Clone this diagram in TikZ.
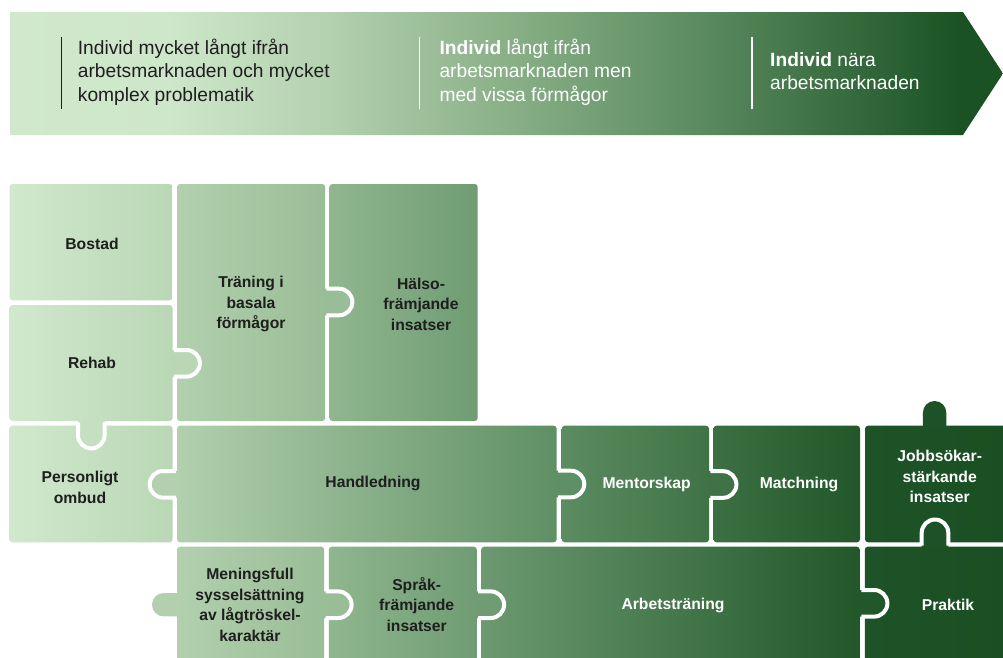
\documentclass[tikz,border=0pt]{standalone}
\usepackage{fontspec}
\setmainfont{Liberation Sans}
% banner colours
\definecolor{bA}{HTML}{D1E8CD}
\definecolor{bB}{HTML}{CEE6CA}
\definecolor{bC}{HTML}{B3D0AF}
\definecolor{bD}{HTML}{8BB189}
\definecolor{bE}{HTML}{5B8B60}
\definecolor{bF}{HTML}{2E6437}
\definecolor{bG}{HTML}{1B5224}
% piece colours (by x position)
\definecolor{cA0}{HTML}{D1E8CD}
\definecolor{cAm}{HTML}{C5DFC1}
\definecolor{cA1}{HTML}{B9D7B5}
\definecolor{cB0}{HTML}{B2D0AE}
\definecolor{cB1}{HTML}{99BD96}
\definecolor{cC0}{HTML}{90B68E}
\definecolor{cC1}{HTML}{6F9C73}
\definecolor{cD0}{HTML}{6C9970}
\definecolor{cH1}{HTML}{5F8F64}
\definecolor{cM0}{HTML}{5C8C61}
\definecolor{cM1}{HTML}{3F7346}
\definecolor{cN0}{HTML}{3C7043}
\definecolor{cN1}{HTML}{215729}
\definecolor{cJ0}{HTML}{1D5327}
\definecolor{cJ1}{HTML}{1A4F22}
\definecolor{cJm}{HTML}{1C5226}
\definecolor{dk}{HTML}{1E1E1E}
\begin{document}
\begin{tikzpicture}[x=1pt,y=-1pt,
  piece/.style={rounded corners=3pt},
  knob/.pic={
    \fill[pic actions] (-3,-13.3) -- (11.8,-13.3) arc[start angle=-90,end angle=90,radius=13.3] -- (-3,13.3) -- cycle;
    \draw[white,line width=4pt] (-1,-13.3) -- (11.8,-13.3) arc[start angle=-90,end angle=90,radius=13.3] -- (-1,13.3);
  },
  tab/.pic={
    \fill[pic actions] (-4,-11.7) -- (13.3,-11.7) arc[start angle=-90,end angle=90,radius=11.7] -- (-4,11.7) -- cycle;
  },
  bantext/.style={font=\fontsize{19.2}{23.5}\selectfont, align=left, inner sep=0pt, anchor=base west},
  lbl/.style={font=\bfseries\fontsize{15.7}{20.5}\selectfont, align=center, inner sep=0pt, text=dk},
  lblw/.style={lbl, text=white},
  divider/.style={line width=1.3pt}
]
\clip (0,0) rectangle (1003,657);
\fill[white] (0,0) rectangle (1003,657);

% ---------- banner ----------
\begin{scope}
  \clip (10,12) -- (963,12) -- (1003,73.5) -- (963,135) -- (10,135) -- cycle;
  \shade[left color=bA, right color=bB] (0,0) rectangle (170.5,150);
  \shade[left color=bB, right color=bC] (170,0) rectangle (330.5,150);
  \shade[left color=bC, right color=bD] (330,0) rectangle (500.5,150);
  \shade[left color=bD, right color=bE] (500,0) rectangle (700.5,150);
  \shade[left color=bE, right color=bF] (700,0) rectangle (880.5,150);
  \shade[left color=bF, right color=bG] (880,0) rectangle (960.5,150);
  \fill[bG] (960,0) rectangle (1010,150);
\end{scope}
\draw[divider, dk] (61.7,37) -- (61.7,109);
\draw[divider, white] (419.5,37) -- (419.5,109);
\draw[divider, white] (752,37) -- (752,109);

% base anchor = baseline of the last line
\node[bantext, text=dk] (t1) at (77.7,101) {Individ mycket långt ifrån\\arbetsmarknaden och mycket\\komplex problematik};
\node[bantext, text=white] (t2) at (439.3,101) {\textbf{Individ} långt ifrån\\arbetsmarknaden men\\med vissa förmågor};
\node[bantext, text=white] (t3) at (770,89.5) {\textbf{Individ} nära\\arbetsmarknaden};

% ---------- puzzle pieces ----------
% row 1
\shade[piece, left color=cA0, right color=cA1] (9.5,184) rectangle (172.5,300.3);
\shade[piece, left color=cA0, right color=cA1] (9.5,305) rectangle (172.5,421);
\shade[piece, left color=cB0, right color=cB1] (177,184) rectangle (325.2,421);
\shade[piece, left color=cC0, right color=cC1] (329.5,184) rectangle (477.7,421);
% row 2
\shade[piece, left color=cA0, right color=cA1] (9.5,425.7) rectangle (172.5,542.3);
\shade[piece, left color=cB0, right color=cH1] (177,425.7) rectangle (556.7,542.3);
\shade[piece, left color=cM0, right color=cM1] (561.7,425.7) rectangle (709,542.3);
\shade[piece, left color=cN0, right color=cN1] (713.5,425.7) rectangle (860,542.3);
\shade[piece, left color=cJ0, right color=cJ1] (865,425.7) rectangle (1010,542.3);
% row 3
\shade[piece, left color=cB0, right color=cB1] (177,546.7) rectangle (324.2,670);
\shade[piece, left color=cC0, right color=cC1] (328.8,546.7) rectangle (476.8,670);
\shade[piece, left color=cD0, right color=cN1] (481.2,546.7) rectangle (859.8,670);
\shade[piece, left color=cJ0, right color=cJ1] (864.8,546.7) rectangle (1010,670);

% outward tabs
\pic[fill=cJm, rotate=90] at (934.6,426) {tab};
\pic[fill=cB0, rotate=180] at (177,604.7) {tab};

% knobs between pieces
\pic[fill=cB1] at (327.3,302) {knob};
\pic[fill=cA1] at (174.8,363.3) {knob};
\pic[fill=cAm, rotate=-90] at (91.3,423.3) {knob};
\pic[fill=cB0, rotate=180] at (174.8,484.3) {knob};
\pic[fill=cH1] at (559.2,484) {knob};
\pic[fill=cM1] at (711.3,484.5) {knob};
\pic[fill=cJm, rotate=90] at (935,544.6) {knob};
\pic[fill=cN1] at (862.3,603.3) {knob};
\pic[fill=cB1] at (326.5,604.7) {knob};
\pic[fill=cC1] at (479,604.7) {knob};

% ---------- labels ----------
\node[lbl] (bostad) at (92,244) {Bostad};
\node[lbl] (rehab) at (92,363) {Rehab};
\node[lbl] (traning) at (251,304) {Träning i\\basala\\förmågor};
\node[lbl] (halso) at (421,304) {Hälso-\\främjande\\insatser};
\node[lbl] (ombud) at (80,487.5) {Personligt\\ombud};
\node[lbl] (handledning) at (373,483.5) {Handledning};
\node[lblw] (mentorskap) at (646.7,484) {Mentorskap};
\node[lblw] (matchning) at (799,484) {Matchning};
\node[lblw] (jobbsokar) at (939.7,476.5) {Jobbsökar-\\stärkande\\insatser};
\node[lbl] (meningsfull) at (250,605) {Meningsfull\\sysselsättning\\av lågtröskel-\\karaktär};
\node[lbl] (sprak) at (416.7,604.5) {Språk-\\främjande\\insatser};
\node[lblw] (arbetstraning) at (673,605) {Arbetsträning};
\node[lblw] (praktik) at (948,605) {Praktik};
\end{tikzpicture}
\end{document}
